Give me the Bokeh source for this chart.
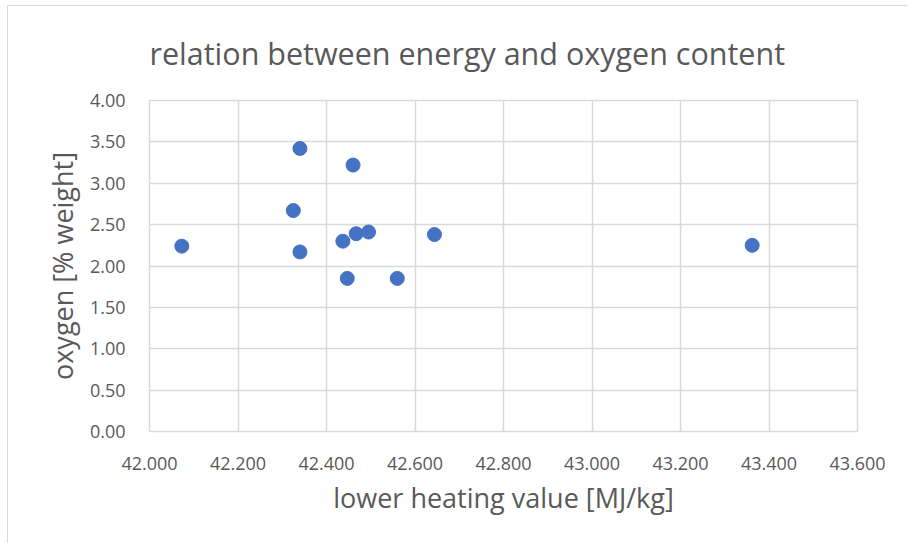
from bokeh.plotting import figure
from bokeh.models import FixedTicker, NumeralTickFormatter, Range1d, ColumnDataSource, Title
from bokeh.embed import file_html
from bokeh.resources import INLINE

lower_heating_value = [42.073, 42.340, 42.460, 42.325, 42.340, 42.437, 42.467, 42.495, 42.644, 42.447, 42.560, 43.362]
oxygen_weight = [2.24, 3.42, 3.22, 2.67, 2.17, 2.30, 2.39, 2.41, 2.38, 1.85, 1.85, 2.25]
x_ticks = [42.0, 42.2, 42.4, 42.6, 42.8, 43.0, 43.2, 43.4, 43.6]
y_ticks = [0.0, 0.5, 1.0, 1.5, 2.0, 2.5, 3.0, 3.5, 4.0]
chart_title = "relation between energy and oxygen content"

FONT = "Open Sans"
GRAY = "#595959"
GRID = "#d9d9d9"

p = figure(width=900, height=538, output_backend="svg", toolbar_location=None,
           x_range=Range1d(42.0, 43.6), y_range=Range1d(0, 4),
           min_border_left=141, min_border_right=51, min_border_top=94, min_border_bottom=113)
p.styles = {"border-top": "1px solid #d9d9d9", "border-left": "1px solid #d9d9d9",
            "margin-left": "7px", "margin-top": "5px"}

p.title = Title(text=chart_title, align="left", vertical_align="top",
                text_font=FONT, text_font_size="30.5px", text_font_style="normal",
                text_color=GRAY, offset=0, standoff=50)

src = ColumnDataSource(dict(x=lower_heating_value, y=oxygen_weight))
p.scatter("x", "y", source=src, size=14, fill_color="#4472C4", line_color="#4472C4")

p.xaxis.ticker = FixedTicker(ticks=x_ticks)
p.yaxis.ticker = FixedTicker(ticks=y_ticks)
p.xaxis.formatter = NumeralTickFormatter(format="0.000")
p.yaxis.formatter = NumeralTickFormatter(format="0.00")

for ax in (p.xaxis[0], p.yaxis[0]):
    ax.axis_line_color = None
    ax.major_tick_line_color = None
    ax.minor_tick_line_color = None
    ax.major_label_text_font = FONT
    ax.major_label_text_font_size = "18px"
    ax.major_label_text_color = GRAY
    ax.axis_label_text_font = FONT
    ax.axis_label_text_font_size = "27px"
    ax.axis_label_text_font_style = "normal"
    ax.axis_label_text_color = GRAY

p.xaxis.axis_label = "lower heating value [MJ/kg]"
p.yaxis.axis_label = "oxygen [% weight]"
p.xaxis.major_label_standoff = 19
p.yaxis.major_label_standoff = 18
p.xaxis.axis_label_standoff = 6
p.yaxis.axis_label_standoff = 6

p.xgrid.grid_line_color = GRID
p.ygrid.grid_line_color = GRID
p.xgrid.grid_line_width = 1.5
p.ygrid.grid_line_width = 1.5
p.outline_line_color = GRID
p.outline_line_width = 1.5

open("out.html", "w").write(file_html(p, INLINE))
